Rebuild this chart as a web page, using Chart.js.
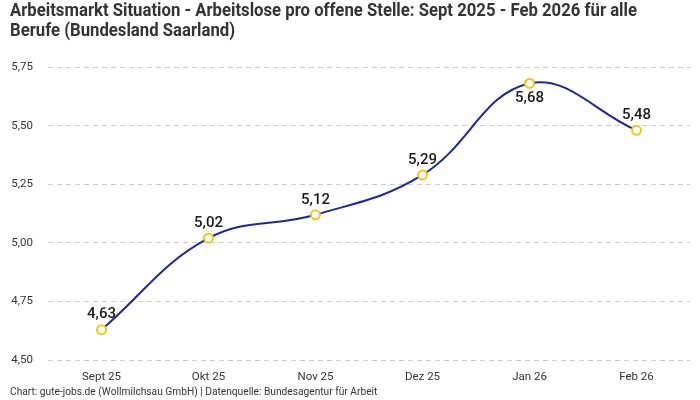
<!DOCTYPE html>
<html><head><meta charset="utf-8">
<script src="https://cdn.jsdelivr.net/npm/chart.js@4"></script>
<style>
html,body{margin:0;padding:0;background:#fff;}
#wrap{position:relative;width:700px;height:400px;}
#title{position:absolute;left:10px;top:0px;font-family:Roboto,"DejaVu Sans",sans-serif;font-weight:bold;font-size:17.5px;line-height:20px;color:#333;transform-origin:0 0;white-space:nowrap;}
#foot{position:absolute;left:10px;top:386px;font-family:Roboto,"Open Sans",sans-serif;font-size:10.2px;color:#333;}
canvas{position:absolute;left:0;top:0;}
</style></head>
<body><div id="wrap">
<canvas id="c" width="700" height="400"></canvas>
<div id="title"><span id="t1">Arbeitsmarkt Situation - Arbeitslose pro offene Stelle: Sept 2025 - Feb 2026 für alle</span><br><span>Berufe (Bundesland Saarland)</span></div>
<div id="foot">Chart: gute-jobs.de (Wollmilchsau GmbH) | Datenquelle: Bundesagentur für Arbeit</div>
</div>
<script>
const categories = ["Sept 25","Okt 25","Nov 25","Dez 25","Jan 26","Feb 26"];
const values = [4.63, 5.02, 5.12, 5.29, 5.68, 5.48];
const yTicks = [4.50, 4.75, 5.00, 5.25, 5.50, 5.75];
const labelBelow = [false,false,false,false,true,false];

const fmt = v => v.toFixed(2).replace('.', ',');

// fit title first line to reference width
(function(){
  const t1 = document.getElementById('t1');
  const w = t1.getBoundingClientRect().width;
  const s = Math.min(1, 627 / w);
  document.getElementById('title').style.transform = 'scaleX(' + s + ')';
})();

const labelPlugin = {
  id:'vlabels',
  afterDatasetsDraw(chart){
    const ctx = chart.ctx;
    const meta = chart.getDatasetMeta(0);
    ctx.save();
    ctx.font = '500 15px Roboto, "Open Sans", sans-serif';
    ctx.fillStyle = '#1a1a1a';
    ctx.textAlign = 'center';
    ctx.textBaseline = 'middle';
    meta.data.forEach((pt,i)=>{
      const dy = labelBelow[i] ? 15 : -15;
      ctx.fillText(fmt(values[i]), pt.x, pt.y + dy);
    });
    ctx.restore();
  }
};

new Chart(document.getElementById('c'), {
  type:'line',
  data:{labels:categories, datasets:[{
    data:values,
    borderColor:'#1b2a8c',
    borderWidth:2,
    tension:0.4,
    pointRadius:4.5,
    pointBorderWidth:2,
    pointBorderColor:'#f7c31a',
    pointBackgroundColor:'#ffffff',
    fill:false
  }]},
  options:{
    responsive:false,
    animation:false,
    layout:{padding:{top:67,left:10,right:10,bottom:6}},
    plugins:{legend:{display:false},tooltip:{enabled:false},title:{display:false}},
    scales:{
      x:{
        offset:true,
        grid:{display:false,drawTicks:false},
        border:{display:false},
        ticks:{padding:10,color:'#333',font:{family:'Roboto, "Open Sans", sans-serif',size:11.5}}
      },
      y:{
        min:4.5,max:5.75,
        afterBuildTicks(axis){ axis.ticks = yTicks.map(v=>({value:v})); },
        afterFit(axis){ axis.width = 38; },
        grid:{color:'#cccccc',drawTicks:false},
        border:{display:false,dash:[5,4]},
        ticks:{padding:15,color:'#333',font:{family:'Roboto, "Open Sans", sans-serif',size:11.5},callback:v=>fmt(v)}
      }
    }
  },
  plugins:[labelPlugin]
});
</script>
</body></html>
